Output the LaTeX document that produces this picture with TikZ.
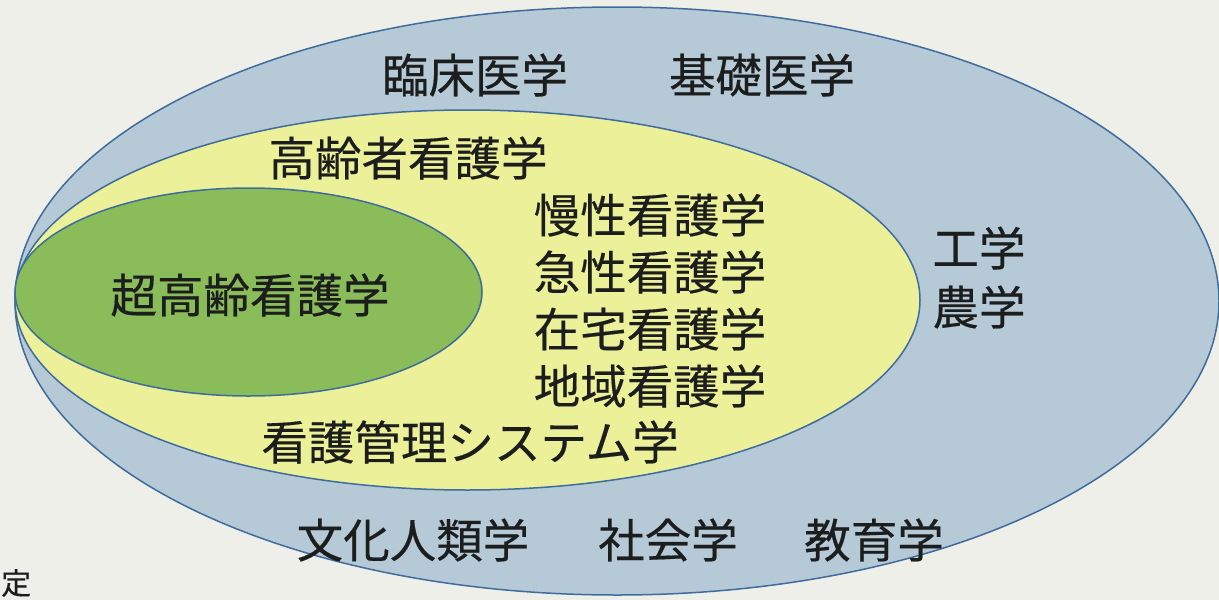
\documentclass[tikz,border=0pt]{standalone}
\usepackage{fontspec}
\newfontfamily\jpfont[FakeBold=0.35]{Noto Sans CJK JP}
\definecolor{bgc}{RGB}{239,239,234}
\definecolor{outerc}{RGB}{182,201,214}
\definecolor{midc}{RGB}{236,240,152}
\definecolor{innerc}{RGB}{138,188,90}
\definecolor{edgec}{RGB}{62,108,156}
\definecolor{txtc}{RGB}{28,30,30}
\begin{document}
\begin{tikzpicture}[x=1pt,y=-1pt,
  ring/.style={draw=edgec,line width=1.5pt},
  lbl/.style={inner sep=0pt,text=txtc,font=\jpfont\fontsize{46.5}{50}\selectfont,anchor=center}]
\fill[bgc] (0,0) rectangle (1219,600);
\useasboundingbox (0,0) rectangle (1219,600);
\path[ring,fill=outerc] (617,301) ellipse [x radius=602pt, y radius=294pt];
\path[ring,fill=midc] (467.5,300) ellipse [x radius=452.5pt, y radius=190pt];
\path[ring,fill=innerc] (248.5,292) ellipse [x radius=233.5pt, y radius=104pt];
\node[lbl] (rinsho) at (475,75) {臨床医学};
\node[lbl] (kiso) at (762,75) {基礎医学};
\node[lbl] (koreisha) at (408,158) {高齢者看護学};
\node[lbl] (mansei) at (650,215) {慢性看護学};
\node[lbl] (kyusei) at (650,272) {急性看護学};
\node[lbl] (zaitaku) at (650,329) {在宅看護学};
\node[lbl] (chiiki) at (650,386) {地域看護学};
\node[lbl] (chokorei) at (250,295) {超高齢看護学};
\node[lbl] (kogaku) at (979,248) {工学};
\node[lbl] (nogaku) at (979,307) {農学};
\node[lbl] (kanri) at (470,442) {看護管理システム学};
\node[lbl] (bunka) at (413,540) {文化人類学};
\node[lbl] (shakai) at (668,540) {社会学};
\node[lbl] (kyoiku) at (874,540) {教育学};
\node[inner sep=0pt,text=txtc,font=\jpfont\fontsize{30}{32}\selectfont,anchor=west] (tei) at (1,583) {定};
\end{tikzpicture}
\end{document}
